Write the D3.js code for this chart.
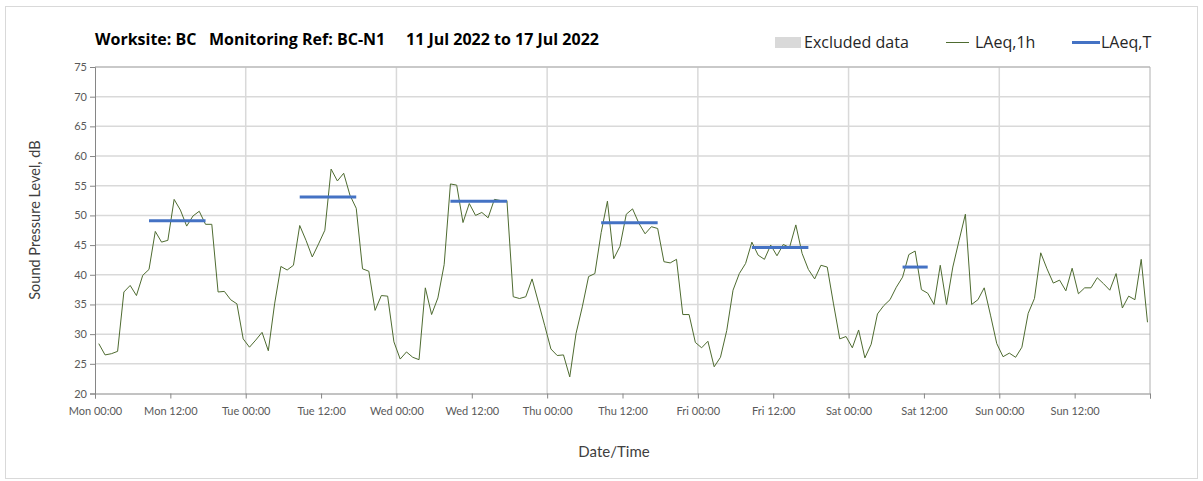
<!DOCTYPE html>
<html>
<head>
<meta charset="utf-8">
<script src="https://cdn.jsdelivr.net/npm/d3@7"></script>
<style>
  body { margin: 0; background: #fff; }
  svg { font-family: Lato, "Noto Sans", sans-serif; }
</style>
</head>
<body>
<div id="chart"></div>
<script>
// hourly LAeq,1h readings, Mon 00:00 .. Sun 23:00
const laeq1h = [
  28.4, 26.5, 26.7, 27.1, 37.1, 38.2, 36.5, 39.9, 40.9, 47.3, 45.5, 45.8,
  52.7, 50.9, 48.2, 49.9, 50.7, 48.5, 48.5, 37.1, 37.2, 35.8, 35.1, 29.2,
  27.8, 29.0, 30.3, 27.2, 35.1, 41.4, 40.8, 41.6, 48.3, 45.8, 43.0, 45.2,
  47.5, 57.8, 55.8, 57.1, 53.4, 51.2, 41.0, 40.6, 34.0, 36.5, 36.4, 28.7,
  25.8, 27.0, 26.1, 25.7, 37.8, 33.3, 36.1, 41.7, 55.3, 55.1, 48.8, 52.0,
  50.0, 50.5, 49.6, 52.7, 52.5, 52.5, 36.3, 36.0, 36.3, 39.3, 35.4, 31.5,
  27.5, 26.4, 26.5, 22.8, 30.1, 34.6, 39.7, 40.2, 47.1, 52.4, 42.7, 44.8,
  50.2, 51.1, 48.7, 46.9, 48.1, 47.8, 42.2, 42.0, 42.6, 33.3, 33.3, 28.6,
  27.7, 28.8, 24.5, 26.1, 30.6, 37.4, 40.2, 41.9, 45.5, 43.3, 42.6, 45.0,
  43.2, 45.1, 44.6, 48.4, 43.6, 40.9, 39.3, 41.6, 41.3, 35.1, 29.2, 29.6,
  27.7, 30.7, 26.0, 28.3, 33.4, 34.8, 35.8, 37.9, 39.6, 43.4, 44.0, 37.5,
  36.9, 35.0, 41.6, 35.0, 41.3, 45.8, 50.2, 35.0, 35.8, 37.8, 33.2, 28.4,
  26.2, 26.8, 26.1, 27.8, 33.5, 36.0, 43.7, 41.0, 38.6, 39.1, 37.3, 41.1,
  36.8, 37.8, 37.8, 39.5, 38.5, 37.4, 40.2, 34.4, 36.4, 35.8, 42.6, 32.0
];
// first reading time, hours after Mon 00:00
const firstReading = 0.6;

// LAeq,T periods (index of first and last hourly reading) and values
const periodStart = [8, 32, 56, 80, 104, 128];
const periodEnd = [17, 41, 65, 89, 113, 132];
const laeqT = [49.1, 53.1, 52.4, 48.75, 44.6, 41.3];

const dayNames = ["Mon", "Tue", "Wed", "Thu", "Fri", "Sat", "Sun"];
const yTicks = d3.range(20, 76, 5);

const width = 1203, height = 481;
const svg = d3.select("#chart").append("svg")
  .attr("width", width)
  .attr("height", height);

// outer frame
svg.append("rect")
  .attr("x", 5.5).attr("y", 6.5)
  .attr("width", 1192).attr("height", 472)
  .attr("fill", "none").attr("stroke", "#d9d9d9");

const x = d3.scaleLinear().domain([0, 168]).range([95, 1150]);
const y = d3.scaleLinear().domain([20, 75]).range([393.5, 67]);

// grid
svg.append("g")
  .selectAll("line")
  .data(yTicks.slice(1))
  .enter()
  .append("line")
  .attr("x1", x(0)).attr("x2", x(168))
  .attr("y1", d => y(d)).attr("y2", d => y(d))
  .attr("stroke", "#d9d9d9").attr("stroke-width", 1.5);

svg.append("g")
  .selectAll("line")
  .data(d3.range(24, 168, 24))
  .enter()
  .append("line")
  .attr("x1", d => x(d)).attr("x2", d => x(d))
  .attr("y1", y(20)).attr("y2", y(75))
  .attr("stroke", "#d9d9d9").attr("stroke-width", 1.5);

// plot border top/right
svg.append("path")
  .attr("d", `M${x(0)},${y(75)}H${x(168)}V${y(20)}`)
  .attr("fill", "none").attr("stroke", "#b0b0b0");

// axes
const xAxis = d3.axisBottom(x)
  .tickValues(d3.range(0, 168, 12).concat([168]))
  .tickSize(5)
  .tickFormat(d => d >= 168 ? "" : dayNames[Math.floor(d / 24)] + " " + (d % 24 === 0 ? "00:00" : "12:00"));

const gx = svg.append("g")
  .attr("transform", `translate(0,${y(20)})`)
  .call(xAxis);
gx.selectAll("text").attr("dy", "1.25em");

const yAxis = d3.axisLeft(y).tickValues(yTicks).tickSize(5);
const gy = svg.append("g")
  .attr("transform", `translate(${x(0)},0)`)
  .call(yAxis);

[gx, gy].forEach(g => {
  g.select(".domain").attr("stroke", "#868686");
  g.selectAll(".tick line").attr("stroke", "#868686");
  g.selectAll("text")
    .attr("fill", "#595959")
    .attr("font-size", 11)
    .attr("font-family", "Lato, sans-serif");
});

// LAeq,1h line
const line = d3.line()
  .x((d, i) => x(i + firstReading))
  .y(d => y(d));

svg.append("path")
  .datum(laeq1h)
  .attr("fill", "none")
  .attr("stroke", "#4e6b30")
  .attr("stroke-width", 1)
  .attr("d", line);

// LAeq,T segments
svg.append("g")
  .selectAll("line")
  .data(laeqT)
  .enter()
  .append("line")
  .attr("x1", (d, i) => x(periodStart[i] + firstReading))
  .attr("x2", (d, i) => x(periodEnd[i] + firstReading))
  .attr("y1", d => y(d)).attr("y2", d => y(d))
  .attr("stroke", "#4472c4")
  .attr("stroke-width", 3);

// title
svg.append("text")
  .attr("x", 95).attr("y", 45)
  .attr("font-size", 16)
  .attr("font-weight", "bold")
  .attr("font-family", "'Open Sans', sans-serif")
  .attr("fill", "#000")
  .attr("xml:space", "preserve")
  .text("Worksite: BC   Monitoring Ref: BC-N1     11 Jul 2022 to 17 Jul 2022");

// legend
const legend = svg.append("g")
  .attr("font-size", 16)
  .attr("font-family", "'Open Sans', sans-serif")
  .attr("fill", "#262626");
legend.append("rect")
  .attr("x", 775).attr("y", 37).attr("width", 26).attr("height", 11)
  .attr("fill", "#d9d9d9");
legend.append("text").attr("x", 804).attr("y", 48).text("Excluded data");
legend.append("line")
  .attr("x1", 946).attr("x2", 969).attr("y1", 42.5).attr("y2", 42.5)
  .attr("stroke", "#4e6b30").attr("stroke-width", 1);
legend.append("text").attr("x", 975).attr("y", 48).text("LAeq,1h");
legend.append("line")
  .attr("x1", 1072).attr("x2", 1100).attr("y1", 42.5).attr("y2", 42.5)
  .attr("stroke", "#4472c4").attr("stroke-width", 3);
legend.append("text").attr("x", 1101).attr("y", 48).text("LAeq,T");

// axis titles
svg.append("text")
  .attr("x", 614).attr("y", 457)
  .attr("text-anchor", "middle")
  .attr("font-size", 15)
  .attr("fill", "#404040")
  .text("Date/Time");

svg.append("text")
  .attr("transform", "translate(40,220) rotate(-90)")
  .attr("text-anchor", "middle")
  .attr("font-size", 14.5)
  .attr("fill", "#404040")
  .text("Sound Pressure Level, dB");
</script>
</body>
</html>
